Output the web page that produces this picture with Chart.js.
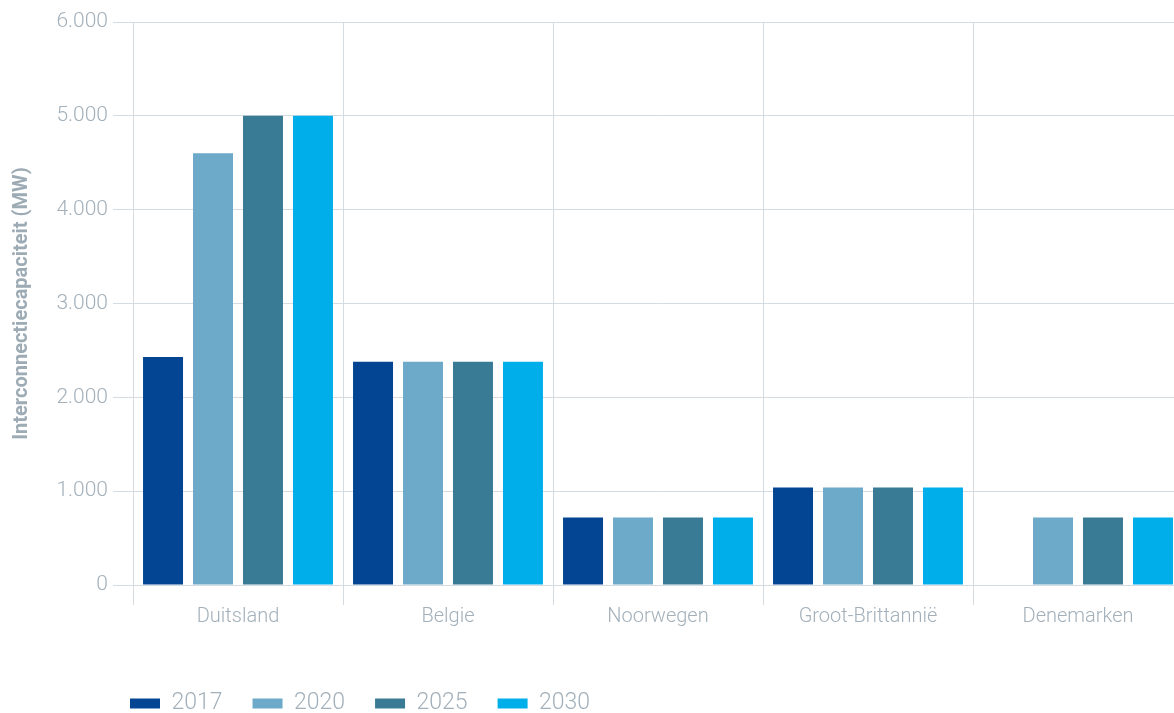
<!DOCTYPE html>
<html>
<head>
<meta charset="utf-8">
<script src="https://cdn.jsdelivr.net/npm/chart.js@4"></script>
<style>
    html, body { margin: 0; padding: 0; background: #fff; overflow: hidden; }
    #wrap { width: 1183px; height: 713px; position: relative; }
</style>
</head>
<body>
<div id="wrap"><canvas id="capChart"></canvas></div>
<script>
    // Data
    const countries = ['Duitsland', 'Belgie', 'Noorwegen', 'Groot-Brittannië', 'Denemarken'];
    const years = ['2017', '2020', '2025', '2030'];
    const cap2017 = [2430, 2380, 720, 1040, null];
    const cap2020 = [4600, 2380, 720, 1040, 720];
    const cap2025 = [5000, 2380, 720, 1040, 720];
    const cap2030 = [5000, 2380, 720, 1040, 720];
    const yMax = 6000;
    const yStep = 1000;

    const colors = ['#034592', '#6da9c8', '#397a95', '#00aeea'];
    const textColor = '#a3b0ba';
    const gridColor = '#d4dbe1';
    const fontFamily = 'Roboto, "Liberation Sans", sans-serif';

    function dots(v) {
        return String(v).replace(/\B(?=(\d{3})+(?!\d))/g, '.');
    }

    // moves the legend down/right like in the original
    const legendPlace = {
        id: 'legendPlace',
        beforeInit(chart) {
            const legend = chart.legend;
            const fit = legend.fit;
            legend.fit = function() {
                fit.call(this);
                this.height = 51;
            };
        },
        afterLayout(chart) {
            chart.legend.left = 100;
        }
    };

    const allValues = [cap2017, cap2020, cap2025, cap2030];

    new Chart(document.getElementById('capChart'), {
        type: 'bar',
        data: {
            labels: countries,
            datasets: years.map((y, i) => ({
                label: y,
                data: allValues[i],
                backgroundColor: colors[i],
                borderWidth: 0,
                categoryPercentage: 0.952,
                barPercentage: 0.8
            }))
        },
        options: {
            responsive: true,
            maintainAspectRatio: false,
            animation: false,
            layout: { padding: { top: 22, left: 0, right: 0, bottom: 0 } },
            plugins: {
                legend: {
                    position: 'bottom',
                    align: 'start',
                    labels: {
                        boxWidth: 30,
                        boxHeight: 10,
                        padding: 30,
                        color: textColor,
                        font: { family: fontFamily, size: 23, weight: 300 }
                    }
                },
                tooltip: { enabled: false }
            },
            scales: {
                x: {
                    grid: { color: gridColor, tickLength: 20, offset: true },
                    border: { color: gridColor },
                    ticks: {
                        color: textColor,
                        padding: 0,
                        font: { family: fontFamily, size: 20, weight: 300 }
                    },
                    afterFit(scale) { scale.height = 77; }
                },
                y: {
                    min: 0,
                    max: yMax,
                    grid: { color: gridColor, tickLength: 20 },
                    border: { color: gridColor },
                    ticks: {
                        stepSize: yStep,
                        color: textColor,
                        padding: 5,
                        font: { family: fontFamily, size: 21, weight: 300 },
                        callback: v => dots(v)
                    },
                    title: {
                        display: true,
                        text: 'Interconnectiecapaciteit (MW)',
                        color: '#9dabb5',
                        padding: { top: 10, bottom: 0 },
                        font: { family: fontFamily, size: 20, weight: 'bold' }
                    },
                    afterFit(scale) { scale.width = 133; }
                }
            }
        },
        plugins: [legendPlace]
    });
</script>
</body>
</html>
